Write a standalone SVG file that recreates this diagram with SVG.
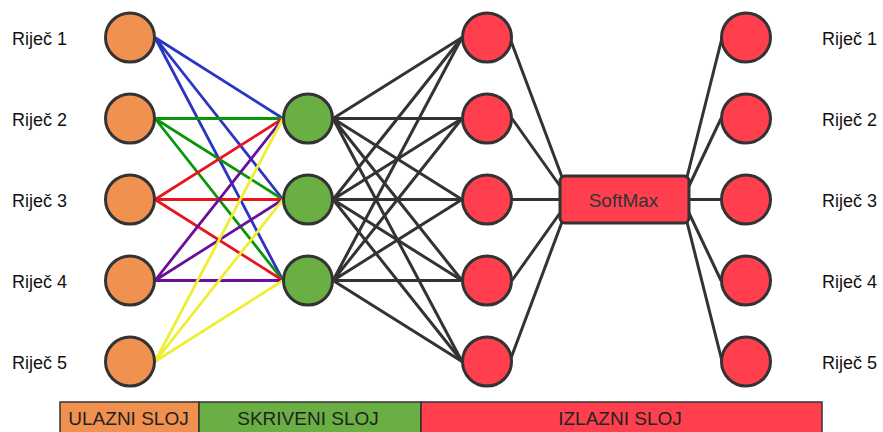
<svg xmlns="http://www.w3.org/2000/svg" width="883" height="432" viewBox="0 0 883 432">
<style>
text{font-family:"Liberation Sans",Arial,sans-serif;font-size:18px;fill:#111}
.in{fill:#F09150;stroke:#333;stroke-width:3}
.hid{fill:#6AAF43;stroke:#333;stroke-width:3}
.out{fill:#FF3F4E;stroke:#333;stroke-width:3}
.k{stroke:#333;stroke-width:3;fill:none}
.c{stroke-width:2.8;fill:none}
.b{stroke:#2B35C2}.g{stroke:#0A960A}.r{stroke:#E8141E}.p{stroke:#6B0E9C}.y{stroke:#EEEE33}
.bar{stroke:#333;stroke-width:1.5}
.mid{text-anchor:middle}
.lg{font-size:19px;fill:#222}
</style>
<rect width="883" height="432" fill="#fff"/>
<g id="connectors">
<g class="c b"><path d="M155 37.5L283 118.5M155 37.5L283 199.5M155 37.5L283 280.5"/></g>
<g class="c g"><path d="M155 118.5L283 118.5M155 118.5L283 199.5M155 118.5L283 280.5"/></g>
<g class="c r"><path d="M155 199.5L283 118.5M155 199.5L283 199.5M155 199.5L283 280.5"/></g>
<g class="c p"><path d="M155 280.5L283 118.5M155 280.5L283 199.5M155 280.5L283 280.5"/></g>
<g class="c y"><path d="M155 361.5L283 118.5M155 361.5L283 199.5M155 361.5L283 280.5"/></g>
<g class="k">
<path d="M333 118.5L462 37.5M333 118.5L462 118.5M333 118.5L462 199.5M333 118.5L462 280.5M333 118.5L462 361.5"/>
<path d="M333 199.5L462 37.5M333 199.5L462 118.5M333 199.5L462 199.5M333 199.5L462 280.5M333 199.5L462 361.5"/>
<path d="M333 280.5L462 37.5M333 280.5L462 118.5M333 280.5L462 199.5M333 280.5L462 280.5M333 280.5L462 361.5"/>
<path d="M511 41L562 177M512 118.5L560 186M512 199.5L560 199.5M512 280.5L560 213M511 358L562 222"/>
<path d="M687 177L722 38M689 186L721 118.5M689 199.5L721 199.5M689 213L721 280.5M687 222L722 361"/>
</g>
</g>
<g id="input-nodes">
<g id="in1"><circle class="in" cx="130" cy="37.5" r="24.5"/><text x="12" y="45">Riječ 1</text></g>
<g id="in2"><circle class="in" cx="130" cy="118.5" r="24.5"/><text x="12" y="126">Riječ 2</text></g>
<g id="in3"><circle class="in" cx="130" cy="199.5" r="24.5"/><text x="12" y="207">Riječ 3</text></g>
<g id="in4"><circle class="in" cx="130" cy="280.5" r="24.5"/><text x="12" y="288">Riječ 4</text></g>
<g id="in5"><circle class="in" cx="130" cy="361.5" r="24.5"/><text x="12" y="369">Riječ 5</text></g>
</g>
<g id="hidden-nodes">
<circle id="h1" class="hid" cx="308" cy="118.5" r="24.5"/>
<circle id="h2" class="hid" cx="308" cy="199.5" r="24.5"/>
<circle id="h3" class="hid" cx="308" cy="280.5" r="24.5"/>
</g>
<g id="output-nodes">
<circle id="o1" class="out" cx="487" cy="37.5" r="24.5"/>
<circle id="o2" class="out" cx="487" cy="118.5" r="24.5"/>
<circle id="o3" class="out" cx="487" cy="199.5" r="24.5"/>
<circle id="o4" class="out" cx="487" cy="280.5" r="24.5"/>
<circle id="o5" class="out" cx="487" cy="361.5" r="24.5"/>
</g>
<g id="softmax"><rect class="out" x="560" y="176" width="129" height="47" rx="5"/><text class="mid" x="623.5" y="206.5" style="fill:#333;font-size:19px">SoftMax</text></g>
<g id="result-nodes">
<g id="r1"><circle class="out" cx="746" cy="37.5" r="24.5"/><text x="822" y="45">Riječ 1</text></g>
<g id="r2"><circle class="out" cx="746" cy="118.5" r="24.5"/><text x="822" y="126">Riječ 2</text></g>
<g id="r3"><circle class="out" cx="746" cy="199.5" r="24.5"/><text x="822" y="207">Riječ 3</text></g>
<g id="r4"><circle class="out" cx="746" cy="280.5" r="24.5"/><text x="822" y="288">Riječ 4</text></g>
<g id="r5"><circle class="out" cx="746" cy="361.5" r="24.5"/><text x="822" y="369">Riječ 5</text></g>
</g>
<g id="legend">
<rect class="bar" x="60" y="402" width="139" height="34" fill="#F09150"/>
<rect class="bar" x="199" y="402" width="222" height="34" fill="#6AAF43"/>
<rect class="bar" x="421" y="402" width="401" height="34" fill="#FF3F4E"/>
<text class="mid lg" x="128.5" y="424.5">ULAZNI SLOJ</text>
<text class="mid lg" x="308" y="424.5">SKRIVENI SLOJ</text>
<text class="mid lg" x="620" y="424.5">IZLAZNI SLOJ</text>
</g>
</svg>
